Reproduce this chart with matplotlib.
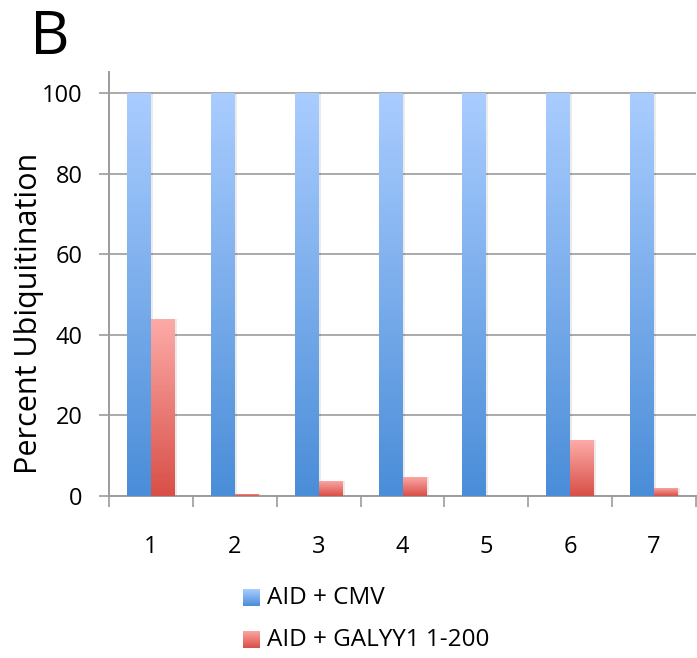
import numpy as np
import matplotlib.pyplot as plt
from matplotlib.patches import Rectangle
from matplotlib.colors import LinearSegmentedColormap

samples = ['1', '2', '3', '4', '5', '6', '7']
cmv = [100, 100, 100, 100, 100, 100, 100]
galyy1 = [44, 0.5, 3.8, 4.8, 0, 13.8, 2.1]
series_names = ['AID + CMV', 'AID + GALYY1 1-200']

blue_map = LinearSegmentedColormap.from_list('blue', ['#4a8dd8', '#aacdff'])
red_map = LinearSegmentedColormap.from_list('red', ['#d84f47', '#fdaba8'])

plt.rcParams['font.family'] = ['Open Sans', 'DejaVu Sans']
grid_col = '#9c9c9c'

fig = plt.figure(figsize=(6.97, 6.58), dpi=100)
ax = fig.add_axes([0.1564, 0.2462, 0.8422, 0.6444])

x = np.arange(len(samples))
w = 0.286
grad = np.linspace(0, 1, 256).reshape(-1, 1)


def gradient_bars(xpos, heights, cmap):
    bars = ax.bar(xpos, heights, w, color='none', edgecolor='none', zorder=3)
    for b in bars:
        h = b.get_height()
        if h <= 0:
            continue
        x0 = b.get_x()
        # soft shadow to the right of each bar
        ax.add_patch(Rectangle((x0 + 0.025, 0), w, h, facecolor='#000000',
                               alpha=0.08, edgecolor='none', zorder=2))
        im = ax.imshow(grad, cmap=cmap, aspect='auto', origin='lower',
                       extent=(x0, x0 + w, 0, h), zorder=3)
        im.set_clip_path(b)


gradient_bars(x - w / 2, cmv, blue_map)
gradient_bars(x + w / 2, galyy1, red_map)

ax.set_xlim(-0.5, 6.5)
ax.set_ylim(0, 105.2)
ax.set_yticks(range(0, 101, 20))
ax.yaxis.grid(True, color=grid_col, linewidth=1.2, zorder=0)
ax.set_axisbelow(True)

ax.set_xticks(x)
ax.set_xticklabels(samples, fontsize=17)
ax.set_xticks(np.arange(-0.5, 7, 1), minor=True)
ax.tick_params(axis='x', which='major', length=0, pad=28)
ax.tick_params(axis='x', which='minor', length=8, width=1.2, color=grid_col)
ax.tick_params(axis='y', length=7, width=1.2, color=grid_col, labelsize=17, pad=12)

for s in ['top', 'right']:
    ax.spines[s].set_visible(False)
for s in ['left', 'bottom']:
    ax.spines[s].set_color(grid_col)
    ax.spines[s].set_linewidth(1.4)

ax.set_ylabel('Percent Ubiquitination', fontsize=22)
ax.yaxis.set_label_coords(-0.111, 0.43)

fig.text(0.043, 0.918, 'B', fontsize=44, va='baseline')

# legend with gradient swatches
for i, (name, cmap) in enumerate(zip(series_names, [blue_map, red_map])):
    ybot = 1 - (606 + 42 * i) / 658
    sw = fig.add_axes([243 / 697, ybot, 17 / 697, 17 / 658])
    sw.imshow(grad, cmap=cmap, aspect='auto', origin='lower')
    sw.set_axis_off()
    fig.text(267 / 697, ybot + 8 / 658, name, fontsize=17.5, va='center')

fig.savefig('out.png', dpi=100)
